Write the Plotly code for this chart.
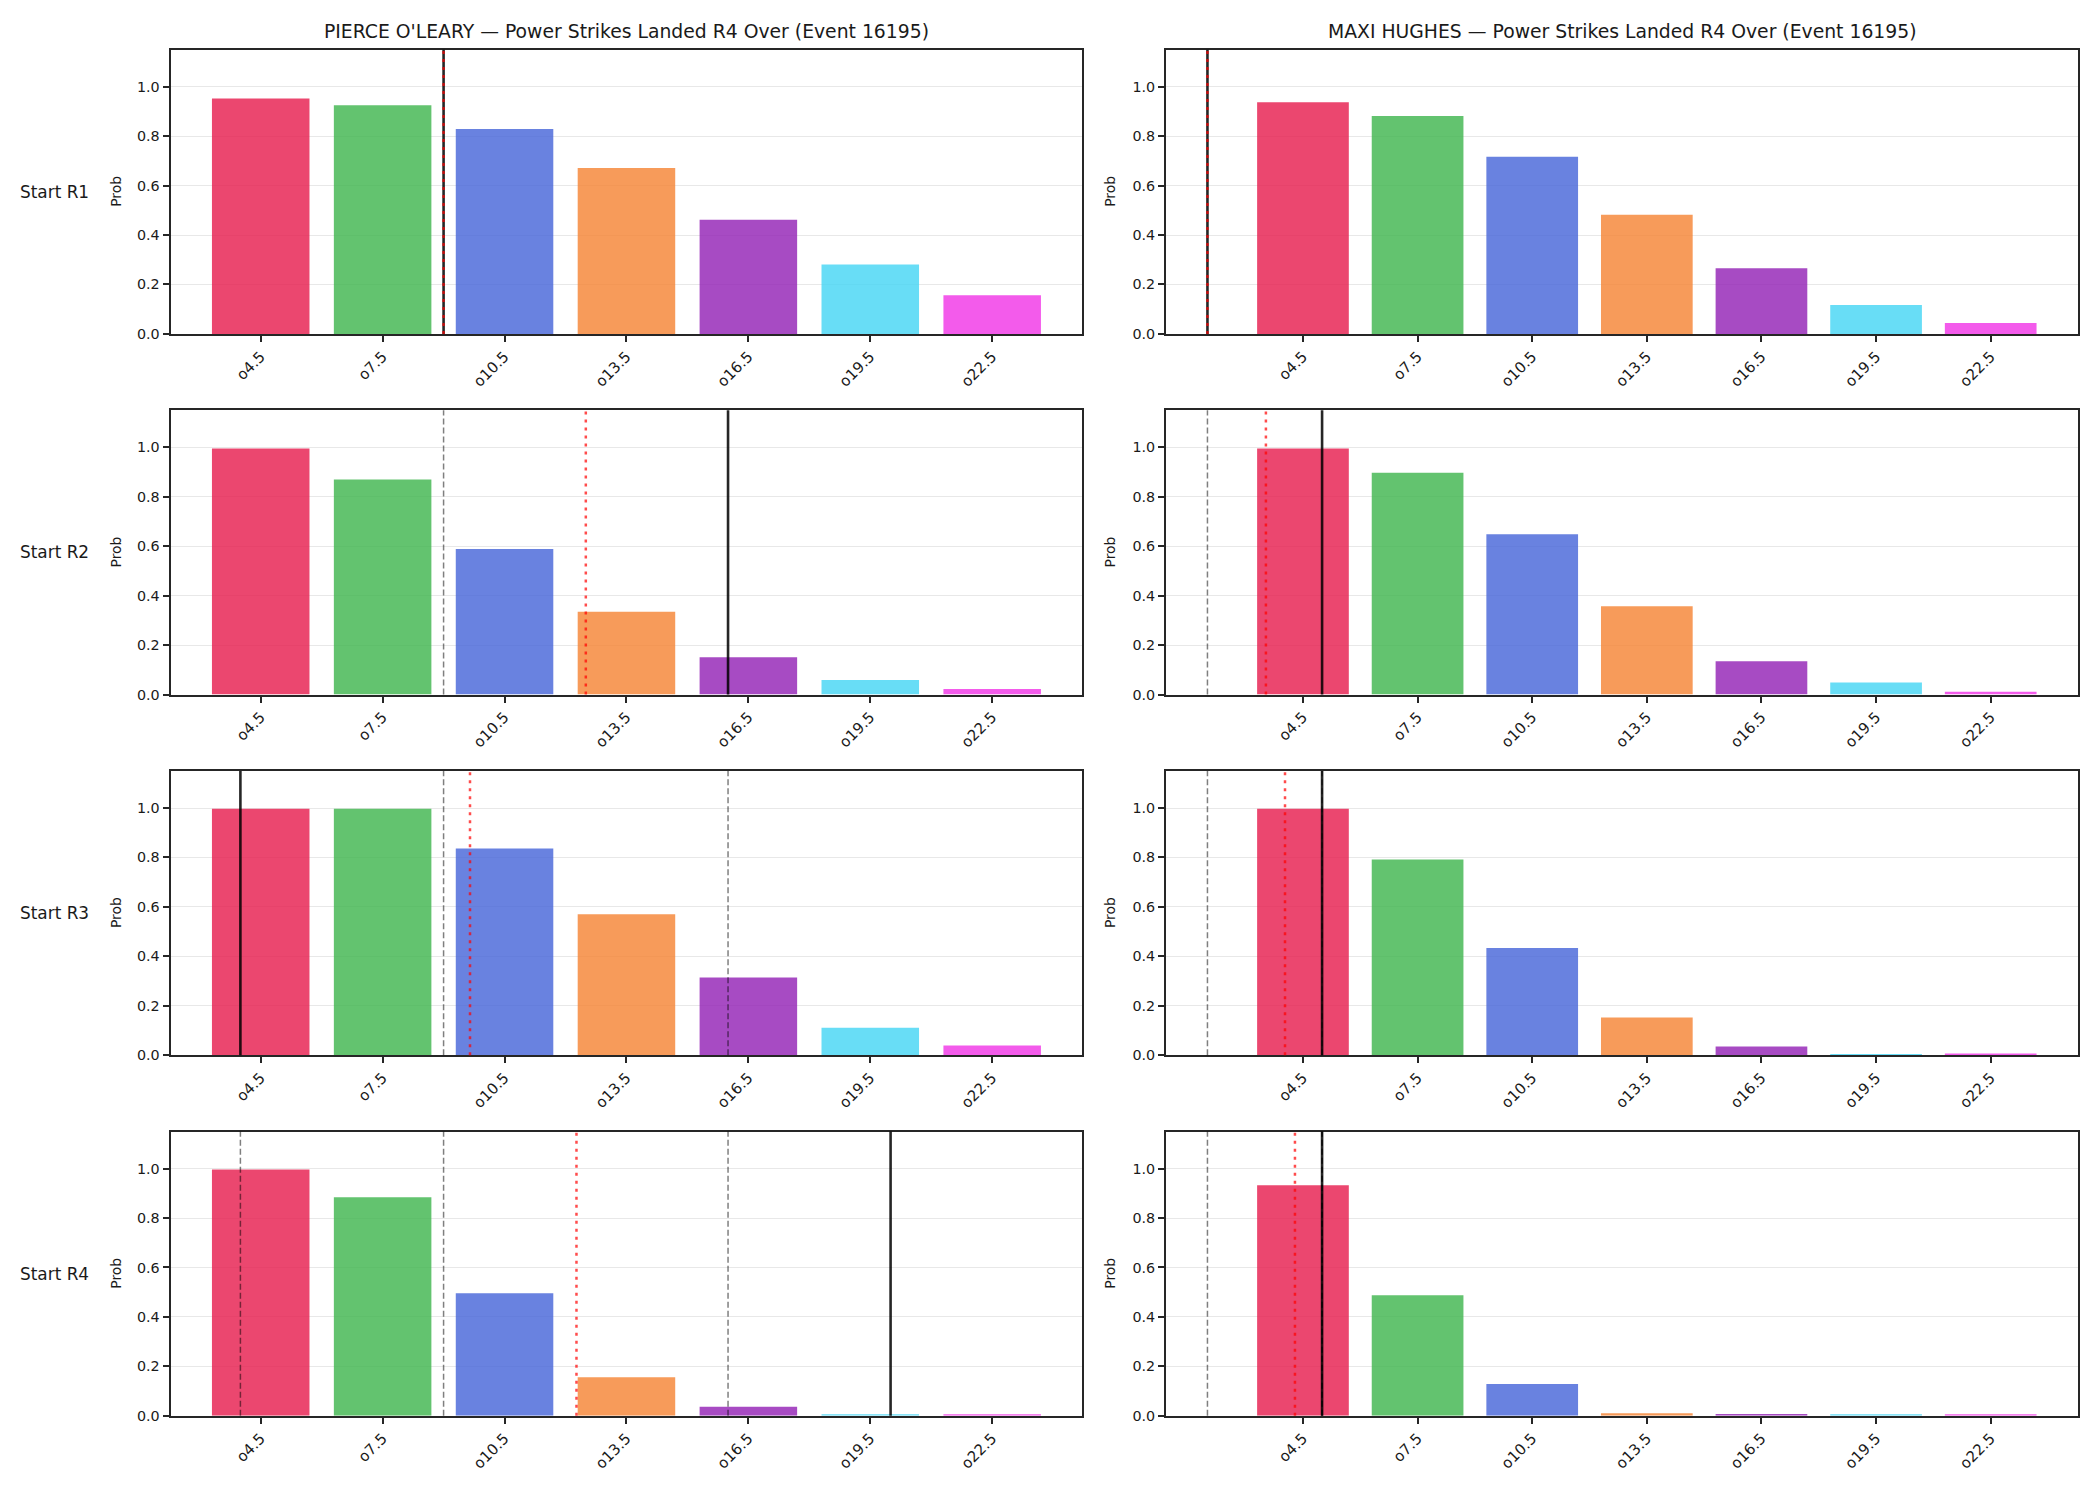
import plotly.graph_objects as go

# ---------------- data ----------------
categories = ["o4.5", "o7.5", "o10.5", "o13.5", "o16.5", "o19.5", "o22.5"]
thresholds = [4.5, 7.5, 10.5, 13.5, 16.5, 19.5, 22.5]
fighters = ["PIERCE O'LEARY", "MAXI HUGHES"]
row_labels = ["Start R1", "Start R2", "Start R3", "Start R4"]
title_suffix = " — Power Strikes Landed R4 Over (Event 16195)"

pierce_probs = [
    [0.953, 0.925, 0.829, 0.671, 0.462, 0.281, 0.156],
    [0.996, 0.870, 0.589, 0.335, 0.151, 0.059, 0.022],
    [0.997, 0.997, 0.836, 0.570, 0.314, 0.111, 0.039],
    [0.997, 0.884, 0.496, 0.156, 0.036, 0.006, 0.006],
]
maxi_probs = [
    [0.937, 0.882, 0.717, 0.482, 0.266, 0.117, 0.044],
    [0.996, 0.897, 0.649, 0.357, 0.135, 0.049, 0.011],
    [0.997, 0.792, 0.434, 0.152, 0.035, 0.005, 0.007],
    [0.933, 0.488, 0.129, 0.010, 0.007, 0.006, 0.006],
]
# strike-count markers (same units as the thresholds)
pierce_actual = [9, 16, 4, 20]          # black solid
pierce_expected = [9, 12.5, 9.65, 12.27]  # red dotted
maxi_actual = [2, 5, 5, 5]
maxi_expected = [2, 3.53, 4.03, 4.29]

bar_colors = ["rgba(230,25,75,0.8)", "rgba(60,180,75,0.8)", "rgba(67,99,216,0.8)",
              "rgba(245,130,49,0.8)", "rgba(145,30,180,0.8)", "rgba(66,212,244,0.8)",
              "rgba(240,50,230,0.8)"]

probs = [pierce_probs, maxi_probs]
actuals = [pierce_actual, maxi_actual]
expecteds = [pierce_expected, maxi_expected]

# ---------------- layout geometry ----------------
W, H = 2100, 1500
FONT = "DejaVu Sans"
x_dom = [[170.5 / W, 1082.4 / W], [1166 / W, 2078 / W]]
row_top0, row_step, row_h = 50.0, 362.55, 285.7

fig = go.Figure()
shapes = []
annotations = []
half_w = 0.4 * 3  # bar width 0.8 of category spacing

for col in range(2):
    all_lines = actuals[col] + expecteds[col]
    lo = min(min(thresholds) - half_w, min(all_lines))
    hi = max(max(thresholds) + half_w, max(all_lines))
    pad = 0.05 * (hi - lo)
    xr = [lo - pad, hi + pad]
    for row in range(4):
        n = row * 2 + col + 1
        sfx = "" if n == 1 else str(n)
        top = row_top0 + row * row_step
        bot = top + row_h
        y_dom = [1 - bot / H, 1 - top / H]

        fig.add_trace(go.Bar(
            x=thresholds, y=probs[col][row], width=2 * half_w,
            marker=dict(color=bar_colors, line=dict(width=0)),
            xaxis="x" + sfx, yaxis="y" + sfx, showlegend=False,
        ))

        axis_common = dict(showline=True, linecolor="#262626", linewidth=2, mirror=True,
                           ticks="outside", ticklen=6, tickwidth=1.5, tickcolor="#262626")
        fig.layout["xaxis" + sfx] = dict(
            domain=x_dom[col], anchor="y" + sfx, range=xr,
            tickvals=thresholds, ticktext=categories, tickangle=-45,
            tickfont=dict(family=FONT, size=15, color="#1a1a1a"),
            showgrid=False, zeroline=False, **axis_common)
        fig.layout["yaxis" + sfx] = dict(
            domain=y_dom, anchor="x" + sfx, range=[0, 1.15],
            tickvals=[0, 0.2, 0.4, 0.6, 0.8, 1.0], tickformat=".1f",
            tickfont=dict(family=FONT, size=14.3, color="#1a1a1a"),
            showgrid=True, gridcolor="#e8e8e8", gridwidth=1, zeroline=False,
            **axis_common)

        xref = "x" + sfx
        yref = "y" + sfx + " domain"
        # previous rounds' actual counts (gray dashed)
        for v in actuals[col][:row]:
            shapes.append(dict(type="line", xref=xref, yref=yref, x0=v, x1=v, y0=0, y1=1,
                               line=dict(color="rgba(0,0,0,0.5)", width=1.5, dash="6px,3px"),
                               layer="above"))
        va = actuals[col][row]
        shapes.append(dict(type="line", xref=xref, yref=yref, x0=va, x1=va, y0=0, y1=1,
                           line=dict(color="rgba(0,0,0,0.85)", width=2.6), layer="above"))
        ve = expecteds[col][row]
        shapes.append(dict(type="line", xref=xref, yref=yref, x0=ve, x1=ve, y0=0, y1=1,
                           line=dict(color="rgba(255,0,0,0.7)", width=2.5, dash="3px,5px"),
                           layer="above"))

        # "Prob" y label
        prob_x = (116 if col == 0 else 1110) / W
        annotations.append(dict(text="Prob", x=prob_x, y=(y_dom[0] + y_dom[1]) / 2,
                                xref="paper", yref="paper", showarrow=False, textangle=-90,
                                xanchor="center", yanchor="middle",
                                font=dict(family=FONT, size=13.9, color="#1a1a1a")))
        if col == 0:
            annotations.append(dict(text=row_labels[row], x=91 / W, y=(y_dom[0] + y_dom[1]) / 2,
                                    xref="paper", yref="paper", showarrow=False,
                                    xanchor="right", yanchor="middle",
                                    font=dict(family=FONT, size=16.9, color="#1a1a1a")))
        if row == 0:
            annotations.append(dict(text=fighters[col] + title_suffix,
                                    x=(x_dom[col][0] + x_dom[col][1]) / 2, y=1 - 31.7 / H,
                                    xref="paper", yref="paper", showarrow=False,
                                    xanchor="center", yanchor="middle",
                                    font=dict(family=FONT, size=18.8, color="#1a1a1a")))

fig.update_layout(
    width=W, height=H, margin=dict(l=0, r=0, t=0, b=0),
    paper_bgcolor="white", plot_bgcolor="white",
    shapes=shapes, annotations=annotations, showlegend=False,
    font=dict(family=FONT),
)

fig.write_html("out.html")
